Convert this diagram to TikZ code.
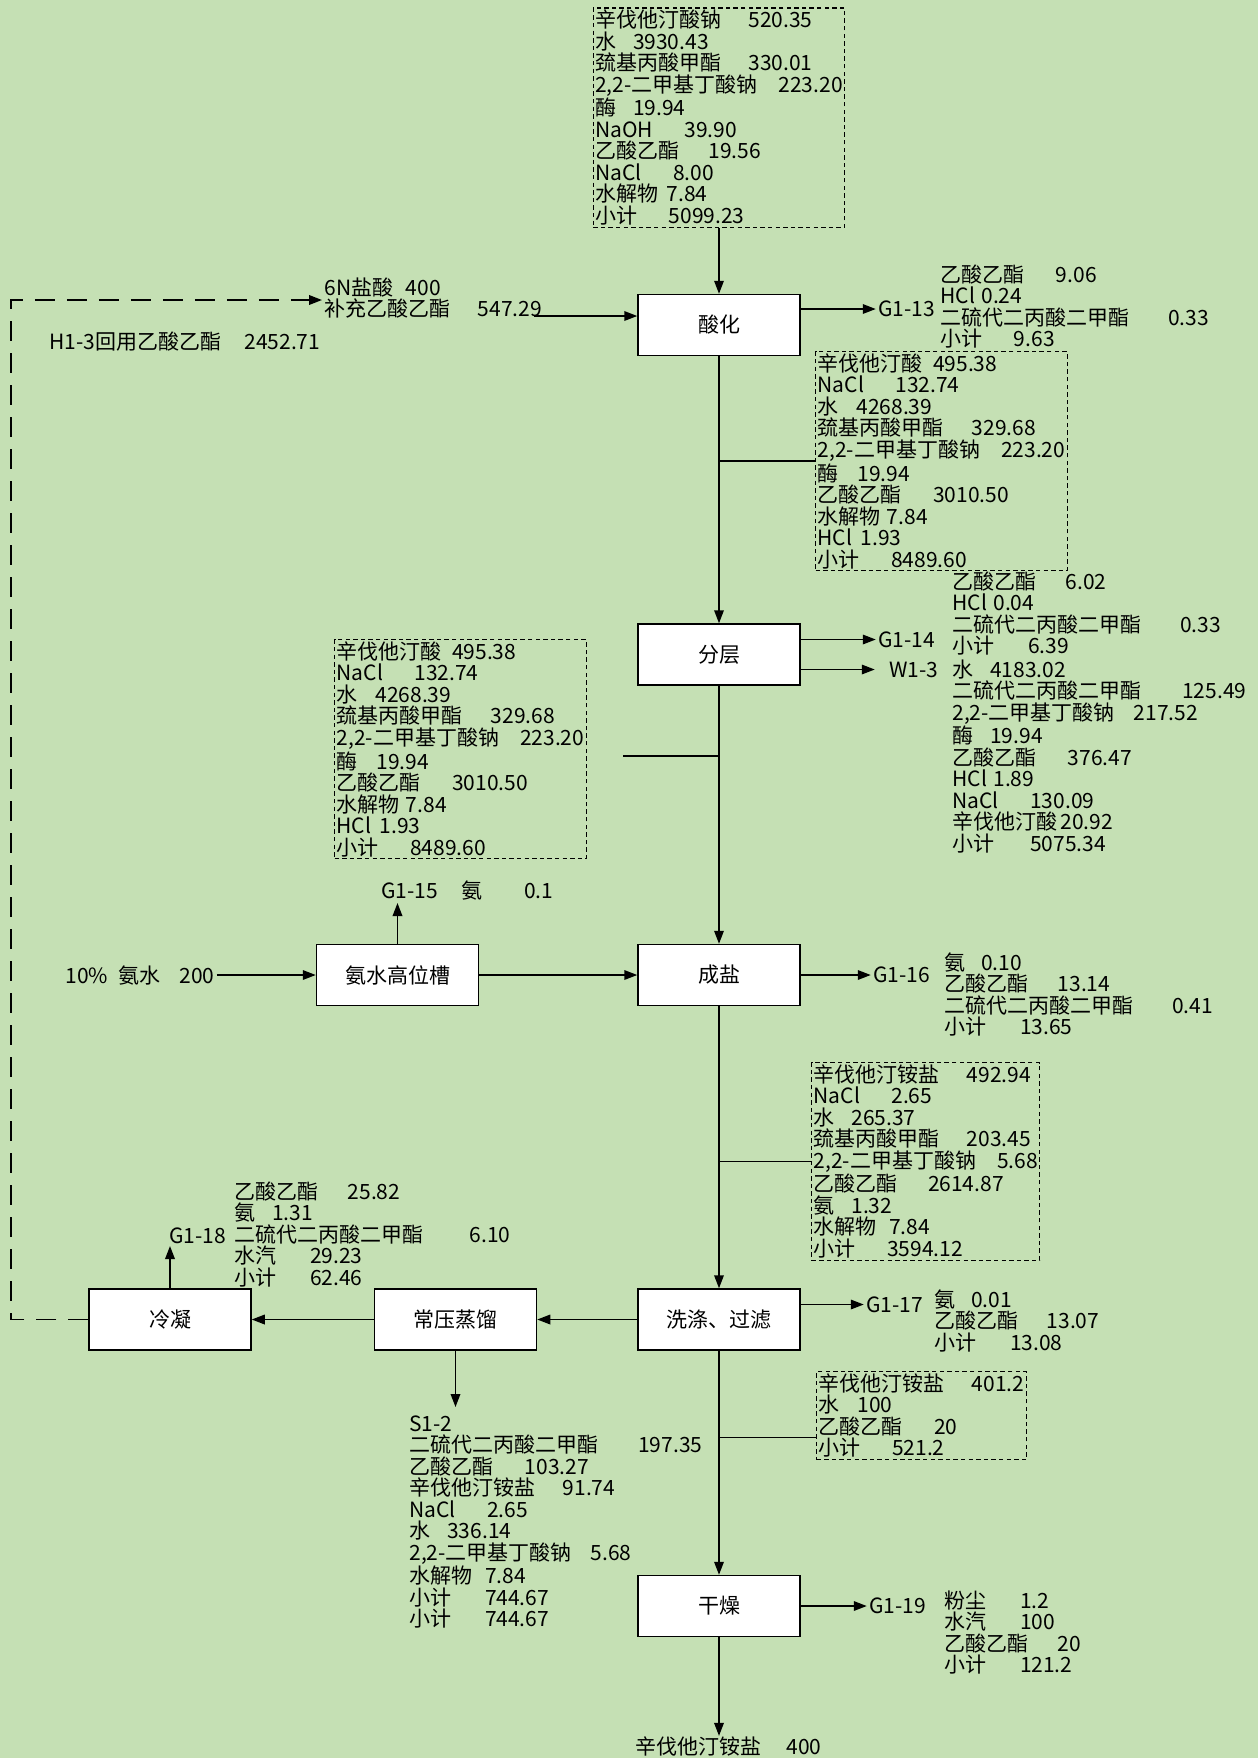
\documentclass[tikz,border=0pt]{standalone}
\usepackage{fontspec}
\setmainfont{Noto Sans CJK SC}
\usetikzlibrary{arrows.meta,positioning}
\definecolor{bggreen}{HTML}{C5E0B4}
\newcommand{\hgap}[1]{\hspace{#1em}}
\tikzset{
  unit/.style={draw, line width=0.75pt, fill=white, minimum width=81pt, minimum height=30.5pt, align=center},
  stream/.style={draw, dash pattern=on 2.2pt off 1.6pt, line width=0.6pt, inner sep=1pt, align=left},
  data/.style={inner sep=0pt, align=left},
  tag/.style={inner sep=1pt},
  line/.style={-{Triangle[length=6.5pt,width=4.8pt]}, line width=0.75pt},
  plain/.style={line width=0.75pt},
  recycle/.style={-{Triangle[length=6.5pt,width=4.8pt]}, line width=0.9pt, dash pattern=on 10pt off 6pt}
}

\begin{document}
\begin{tikzpicture}[x=0.5pt, y=-0.5pt, font=\fontsize{10.5pt}{10.75pt}\selectfont]
  \fill[bggreen] (0,0) rectangle (1258,1758);
  \useasboundingbox (0,0) rectangle (1258,1758);

  % main process line
  \node[unit] (acid) at (719,325) {酸化};
  \node[unit, below=133.5pt of acid] (layer) {分层};
  \node[unit, below=129pt of layer] (salt) {成盐};
  \node[unit, below=141pt of salt] (wash) {洗涤、过滤};
  \node[unit, below=112pt of wash] (dry) {干燥};
  \node[unit, left=79pt of salt] (tank) {氨水高位槽};
  \node[unit, left=50pt of wash] (distill) {常压蒸馏};
  \node[unit, left=61pt of distill] (cond) {冷凝};

  % feed
  \node[stream, above=33pt of acid] (feed) {辛伐他汀酸钠\hgap{1.3}520.35\\水\hgap{0.8}3930.43\\巯基丙酸甲酯\hgap{1.3}330.01\\2,2-二甲基丁酸钠\hgap{1}223.20\\酶\hgap{0.8}19.94\\NaOH\hgap{1.5}39.90\\乙酸乙酯\hgap{1.4}19.56\\NaCl\hgap{1.5}8.00\\水解物\hgap{0.4}7.84\\小计\hgap{1.5}5099.23};
  \node[data, anchor=north west] (hcl) at (324,277) {6N盐酸\hgap{0.6}400\\补充乙酸乙酯\hgap{1.3}547.29};
  \node[data, anchor=west] (reuse) at (49,342) {H1-3回用乙酸乙酯\hgap{1.1}2452.71};
  \coordinate (hcltail) at (534,316);
  \coordinate[xshift=-38.5pt] (rcorner) at (cond.west);
  \coordinate (rhead) at (322,300);

  % acidification
  \node[tag, right=37.5pt of acid.east, yshift=8pt] (g13) {G1-13};
  \node[data, anchor=north west] (g13d) at (940,264) {乙酸乙酯\hgap{1.5}9.06\\HCl\hgap{0.3}0.24\\二硫代二丙酸二甲酯\hgap{1.85}0.33\\小计\hgap{1.5}9.63};
  \node[stream, anchor=north west] (acidout) at (815,351) {辛伐他汀酸\hgap{0.5}495.38\\NaCl\hgap{1.5}132.74\\水\hgap{0.85}4268.39\\巯基丙酸甲酯\hgap{1.35}329.68\\2,2-二甲基丁酸钠\hgap{1}223.20\\酶\hgap{0.9}19.94\\乙酸乙酯\hgap{1.5}3010.50\\水解物\hgap{0.3}7.84\\HCl\hgap{0.4}1.93\\小计\hgap{1.5}8489.60};

  % layering
  \node[tag, right=37.5pt of layer.east, yshift=7.5pt] (g14) {G1-14};
  \node[tag, right=43pt of layer.east, yshift=-7.5pt] (w13) {W1-3};
  \node[data, anchor=north west] (g14d) at (952,571) {乙酸乙酯\hgap{1.4}6.02\\HCl\hgap{0.3}0.04\\二硫代二丙酸二甲酯\hgap{1.85}0.33\\小计\hgap{1.6}6.39};
  \node[data, anchor=north west] (w13d) at (952,659) {水\hgap{0.8}4183.02\\二硫代二丙酸二甲酯\hgap{1.95}125.49\\2,2-二甲基丁酸钠\hgap{0.9}217.52\\酶\hgap{0.8}19.94\\乙酸乙酯\hgap{1.5}376.47\\HCl\hgap{0.3}1.89\\NaCl\hgap{1.5}130.09\\辛伐他汀酸\hgap{0.15}20.92\\小计\hgap{1.7}5075.34};
  \node[stream, anchor=north west] (layerout) at (334,639) {辛伐他汀酸\hgap{0.5}495.38\\NaCl\hgap{1.5}132.74\\水\hgap{0.85}4268.39\\巯基丙酸甲酯\hgap{1.35}329.68\\2,2-二甲基丁酸钠\hgap{1}223.20\\酶\hgap{0.9}19.94\\乙酸乙酯\hgap{1.5}3010.50\\水解物\hgap{0.3}7.84\\HCl\hgap{0.4}1.93\\小计\hgap{1.5}8489.60};
  \coordinate (tap) at (623,756);

  % ammonia
  \node[data, anchor=west] (nh3) at (65,975) {10\%\hgap{0.5}氨水\hgap{0.9}200};
  \coordinate[xshift=-49.5pt] (nh3tail) at (tank.west);
  \node[tag, anchor=south west] (g15) at (379,903) {G1-15\hgap{1.1}氨\hgap{2}0.1};

  % salt forming
  \node[tag, right=35pt of salt.east] (g16) {G1-16};
  \node[data, anchor=north west] (g16d) at (944,952) {氨\hgap{0.75}0.10\\乙酸乙酯\hgap{1.4}13.14\\二硫代二丙酸二甲酯\hgap{1.85}0.41\\小计\hgap{1.6}13.65};
  \node[stream, anchor=north west] (saltout) at (811,1062) {辛伐他汀铵盐\hgap{1.3}492.94\\NaCl\hgap{1.5}2.65\\水\hgap{0.8}265.37\\巯基丙酸甲酯\hgap{1.3}203.45\\2,2-二甲基丁酸钠\hgap{1}5.68\\乙酸乙酯\hgap{1.45}2614.87\\氨\hgap{0.8}1.32\\水解物\hgap{0.6}7.84\\小计\hgap{1.5}3594.12};

  % washing
  \node[tag, right=31.5pt of wash.east, yshift=7.5pt] (g17) {G1-17};
  \node[data, anchor=north west] (g17d) at (934,1289) {氨\hgap{0.75}0.01\\乙酸乙酯\hgap{1.35}13.07\\小计\hgap{1.6}13.08};
  \node[stream, anchor=north west] (washout) at (816,1371) {辛伐他汀铵盐\hgap{1.3}401.2\\水\hgap{0.85}100\\乙酸乙酯\hgap{1.5}20\\小计\hgap{1.5}521.2};

  % condensing and distilling
  \node[tag, anchor=south west] (g18) at (167,1246) {G1-18};
  \node[data, anchor=north west] (g18d) at (234,1181) {乙酸乙酯\hgap{1.4}25.82\\氨\hgap{0.8}1.31\\二硫代二丙酸二甲酯\hgap{2.2}6.10\\水汽\hgap{1.6}29.23\\小计\hgap{1.6}62.46};
  \coordinate (s12tip) at (455,1407);
  \node[data, anchor=north west] (s12) at (409,1415) {S1-2\\二硫代二丙酸二甲酯\hgap{1.9}197.35\\乙酸乙酯\hgap{1.5}103.27\\辛伐他汀铵盐\hgap{1.3}91.74\\NaCl\hgap{1.5}2.65\\水\hgap{0.8}336.14\\2,2-二甲基丁酸钠\hgap{0.9}5.68\\水解物\hgap{0.6}7.84\\小计\hgap{1.6}744.67\\小计\hgap{1.6}744.67};

  % drying
  \node[tag, right=33pt of dry.east] (g19) {G1-19};
  \node[data, anchor=north west] (g19d) at (944,1590) {粉尘\hgap{1.6}1.2\\水汽\hgap{1.6}100\\乙酸乙酯\hgap{1.4}20\\小计\hgap{1.6}121.2};
  \node[data, anchor=west] (product) at (635,1746) {辛伐他汀铵盐\hgap{1.2}400};

  \draw[line] (feed) -- (acid);
  \draw[line] (acid) -- (layer);
  \draw[line] (layer) -- (salt);
  \draw[line] (salt) -- (wash);
  \draw[line] (wash) -- (dry);
  \draw[line] (dry.south) -- (dry.south |- product.north);
  \draw[line] (hcltail) -- (hcltail -| acid.west);
  \draw[recycle] (cond.west) -- (rcorner) |- (rhead);
  \draw[line] (g13.west -| acid.east) -- (g13.west);
  \draw[plain] (acidout.west) -- (acidout.west -| acid.south);
  \draw[line] (g14.west -| layer.east) -- (g14.west);
  \draw[line] (w13.west -| layer.east) -- ([xshift=-6pt]w13.west);
  \draw[plain] (tap) -- (tap -| layer.south);
  \draw[line] (nh3tail) -- (tank.west);
  \draw[line] (tank.north) -- (tank.north |- g15.south);
  \draw[line] (tank.east) -- (salt.west);
  \draw[line] (salt.east) -- (g16.west);
  \draw[plain] (saltout.west) -- (saltout.west -| salt.south);
  \draw[line] (g17.west -| wash.east) -- (g17.west);
  \draw[plain] ([yshift=-11pt]washout.west) -- ([yshift=-11pt]washout.west -| wash.south);
  \draw[line] (wash.west) -- (distill.east);
  \draw[line] (distill.west) -- (cond.east);
  \draw[line] (cond.north) -- (cond.north |- g18.south);
  \draw[line] (distill.south) -- (distill.south |- s12tip);
  \draw[line] (g19.west -| dry.east) -- (g19.west);
\end{tikzpicture}
\end{document}
